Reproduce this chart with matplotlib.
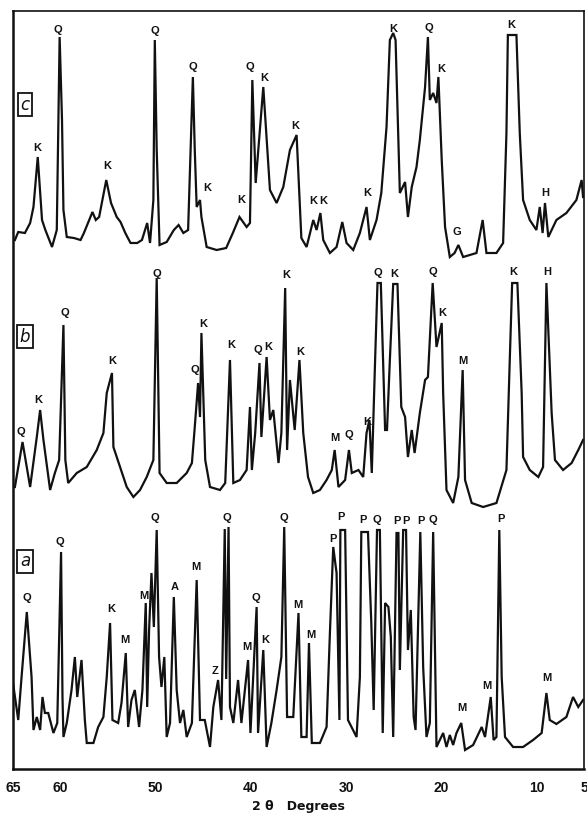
import matplotlib
matplotlib.use("Agg")
import matplotlib.pyplot as plt

# ===============================================================
# Data: 2-theta (deg) and relative intensity
# ===============================================================
C_TWO_THETA = [64.8, 64.45, 63.75, 63.2, 62.85, 62.4, 61.95, 61.6, 60.9, 60.4, 60.1, 59.85, 59.7,
               59.35, 58.6, 57.9, 57.55, 56.65, 56.3, 55.95, 55.2, 54.7, 54.1, 53.7, 53.2,
               52.65, 51.95, 51.45, 50.9, 50.6, 50.25, 50.1, 49.9, 49.6, 48.85, 48.1, 47.6, 47.1,
               46.6, 46.1, 45.9, 45.7, 45.35, 45.2, 44.65, 43.6, 42.6, 41.9, 41.2, 40.45, 40.1,
               39.85, 39.5, 38.7, 38.0, 37.3, 36.6, 35.9, 35.2, 34.7, 34.15, 33.45, 33.1, 32.7,
               32.4, 31.7, 31.0, 30.4, 29.95, 29.25, 28.55, 27.85, 27.5, 26.8, 26.3, 25.75,
               25.4, 25.05, 24.8, 24.35, 23.8, 23.5, 23.1, 22.6, 22.25, 21.7, 21.4, 21.2,
               20.85, 20.5, 20.3, 19.95, 19.6, 19.1, 18.6, 18.2, 17.7, 16.3, 15.65, 15.25,
               14.2, 13.5, 13.15, 13.0, 12.1, 11.75, 11.4, 10.7, 10.0, 9.65, 9.35, 9.1, 8.75,
               7.9, 6.85, 5.8, 5.25, 5.1]
C_INTENSITY = [20, 28, 27, 37, 53, 103, 40, 30, 13, 30, 223, 140, 50,
               23, 22, 20, 27, 48, 40, 43, 80, 57, 43, 38, 27,
               17, 17, 20, 37, 17, 60, 220, 110, 15, 18, 30, 35, 27,
               30, 183, 110, 53, 60, 43, 13, 10, 12, 27, 43, 33, 37,
               180, 77, 173, 70, 57, 73, 110, 125, 22, 13, 40, 30, 47,
               20, 7, 13, 38, 17, 10, 27, 53, 20, 40, 67, 133,
               220, 227, 220, 67, 78, 43, 73, 93, 120, 173, 223, 160,
               167, 157, 183, 100, 33, 3, 7, 15, 3, 7, 40, 7,
               7, 17, 127, 225, 225, 127, 60, 40, 30, 53, 27, 57, 23,
               40, 47, 60, 80, 63]

B_TWO_THETA = [64.8, 64.0, 63.2, 62.5, 62.15, 61.8, 61.1, 60.6, 60.15, 59.7, 59.5, 59.2,
               58.3, 57.25, 56.2, 55.5, 55.15, 54.6, 54.45, 53.75, 53.05, 52.35, 51.65, 50.95,
               50.25, 49.9, 49.6, 48.85, 47.8, 46.75, 46.2, 45.9, 45.55, 45.35, 45.2, 44.8,
               44.3, 43.25, 42.7, 42.2, 41.85, 41.15, 40.45, 40.1, 39.9, 39.55, 39.1, 38.9,
               38.35, 38.0, 37.65, 37.1, 36.8, 36.4, 36.2, 35.9, 35.4, 34.9, 34.5, 34.0,
               33.45, 32.75, 32.05, 31.5, 31.2, 30.8, 30.1, 29.7, 29.4, 28.7, 28.2, 27.85,
               27.55, 27.3, 26.95, 26.7, 26.35, 25.9, 25.7, 25.4, 25.05, 24.6, 24.2, 23.8,
               23.5, 23.1, 22.8, 22.25, 21.7, 21.4, 20.9, 20.5, 19.95, 19.8, 19.45, 18.75,
               18.2, 17.75, 17.5, 16.8, 15.6, 14.2, 13.15, 12.8, 12.55, 12.0, 11.55, 11.4,
               10.7, 9.8, 9.3, 8.95, 8.4, 8.05, 7.2, 6.3, 5.6, 5.1]
B_INTENSITY = [13, 58, 13, 63, 90, 60, 10, 27, 40, 175, 40, 17,
               27, 33, 50, 67, 107, 127, 53, 33, 13, 3, 10, 23,
               40, 222, 27, 17, 17, 27, 37, 73, 117, 83, 167, 40,
               13, 10, 17, 140, 17, 20, 30, 93, 30, 67, 137, 63,
               143, 80, 90, 37, 67, 212, 50, 120, 70, 140, 67, 23,
               7, 10, 20, 30, 50, 13, 20, 50, 27, 30, 23, 67,
               80, 27, 140, 217, 217, 70, 70, 140, 216, 216, 93, 83,
               43, 70, 47, 87, 120, 123, 217, 153, 177, 107, 10, -3,
               23, 130, 20, -3, -7, -3, 30, 140, 217, 217, 107, 43,
               30, 23, 33, 217, 87, 40, 30, 37, 50, 60]

A_TWO_THETA = [65.0, 64.45, 64.1, 63.55, 63.05, 62.85, 62.5, 62.15, 61.9, 61.65, 61.3, 60.75,
               60.35, 59.95, 59.8, 59.7, 59.35, 58.85, 58.5, 58.25, 57.8, 57.45, 57.25, 56.55,
               56.05, 55.5, 55.15, 54.8, 54.55, 53.95, 53.6, 53.15, 52.9, 52.55, 52.2, 51.75,
               51.4, 51.05, 50.9, 50.7, 50.45, 50.2, 49.9, 49.65, 49.4, 49.1, 48.85, 48.5,
               48.1, 47.8, 47.45, 47.1, 46.75, 46.2, 45.7, 45.35, 44.85, 44.3, 43.95, 43.45,
               43.1, 42.75, 42.6, 42.35, 42.2, 41.85, 41.35, 41.0, 40.3, 40.05, 39.4, 39.25,
               38.7, 38.35, 37.85, 37.3, 36.8, 36.5, 36.2, 35.55, 35.0, 34.7, 34.15, 33.9,
               33.6, 32.75, 32.05, 31.7, 31.35, 31.0, 30.7, 30.6, 30.1, 29.8, 28.9, 28.55,
               28.4, 27.7, 27.35, 27.1, 26.75, 26.45, 26.15, 25.9, 25.55, 25.3, 25.05, 24.7,
               24.5, 24.35, 24.0, 23.7, 23.5, 23.2, 22.9, 22.7, 22.2, 21.9, 21.55, 21.2,
               20.85, 20.5, 19.8, 19.45, 19.1, 18.75, 18.4, 17.9, 17.5, 16.65, 15.75, 15.4,
               14.8, 14.5, 14.2, 13.9, 13.65, 13.3, 12.45, 11.4, 10.35, 9.45, 8.95, 8.6,
               7.9, 6.85, 6.15, 5.6, 5.1]
A_INTENSITY = [86, 49, 92, 157, 92, 39, 52, 39, 72, 56, 56, 36,
               46, 217, 72, 32, 46, 79, 112, 72, 109, 49, 26, 26,
               42, 52, 92, 146, 49, 46, 66, 116, 42, 69, 79, 42,
               79, 166, 62, 139, 196, 142, 239, 112, 82, 112, 32, 46,
               172, 79, 46, 59, 32, 46, 189, 49, 49, 22, 62, 89,
               49, 240, 90, 242, 62, 46, 89, 46, 109, 36, 162, 36,
               119, 22, 46, 79, 112, 242, 52, 52, 156, 32, 32, 126,
               26, 26, 42, 136, 222, 196, 49, 239, 239, 49, 32, 92,
               237, 237, 146, 59, 239, 239, 36, 166, 162, 132, 32, 236,
               236, 99, 239, 239, 119, 159, 52, 39, 237, 102, 32, 46,
               237, 22, 36, 22, 34, 24, 36, 46, 19, 24, 42, 32,
               72, 29, 32, 239, 92, 32, 22, 22, 29, 36, 76, 49,
               45, 52, 72, 62, 69]

# peak identifications: (2-theta, height above trace base, mineral)
C_LABELS = [(62.4, 112, "K"), (60.3, 230, "Q"), (55.1, 94, "K"), (50.1, 229, "Q"),
            (46.1, 193, "Q"), (44.6, 72, "K"), (41.0, 60, "K"), (40.1, 193, "Q"),
            (38.6, 182, "K"), (35.3, 134, "K"), (33.5, 59, "K"), (32.4, 59, "K"),
            (27.8, 67, "K"), (25.0, 231, "K"), (21.3, 232, "Q"), (20.0, 191, "K"),
            (18.4, 28, "G"), (12.6, 235, "K"), (9.1, 67, "H")]
B_LABELS = [(64.2, 68, "Q"), (62.3, 100, "K"), (59.6, 187, "Q"), (54.6, 139, "K"),
            (49.9, 226, "Q"), (45.9, 130, "Q"), (45.0, 176, "K"), (42.1, 155, "K"),
            (39.3, 150, "Q"), (38.2, 153, "K"), (36.3, 225, "K"), (34.85, 148, "K"),
            (31.2, 62, "M"), (29.7, 65, "Q"), (27.8, 78, "K"), (26.7, 227, "Q"),
            (24.9, 226, "K"), (20.9, 228, "Q"), (19.9, 187, "K"), (17.7, 139, "M"),
            (12.4, 228, "K"), (8.9, 228, "H")]
A_LABELS = [(63.5, 171, "Q"), (60.1, 227, "Q"), (54.7, 160, "K"), (53.2, 129, "M"),
            (51.25, 173, "M"), (50.1, 251, "Q"), (48.0, 182, "A"), (45.8, 202, "M"),
            (43.8, 98, "Z"), (42.5, 251, "Q"), (40.4, 122, "M"), (39.5, 171, "Q"),
            (38.5, 129, "K"), (36.5, 251, "Q"), (35.05, 164, "M"), (33.7, 134, "M"),
            (31.4, 230, "P"), (30.55, 252, "P"), (28.2, 249, "P"), (26.75, 249, "Q"),
            (24.65, 248, "P"), (23.7, 248, "P"), (22.1, 248, "P"), (20.9, 249, "Q"),
            (17.85, 61, "M"), (15.2, 83, "M"), (13.75, 250, "P"), (8.9, 91, "M")]

X_TICKS = [65, 60, 50, 40, 30, 20, 10, 5]

# ===============================================================
# Figure + layout
# ===============================================================
DPI = 100
fig = plt.figure(figsize=(587 / DPI, 815 / DPI), dpi=DPI)
fig.patch.set_facecolor("white")
ax = fig.add_axes([13 / 587, 1 - 769 / 815, 571 / 587, 758 / 815])

INK = "#111111"
OFFSETS = {"c": 509, "b": 269, "a": 0}
TRACES = [
    ("c", C_TWO_THETA, C_INTENSITY, C_LABELS, 0.876),
    ("b", B_TWO_THETA, B_INTENSITY, B_LABELS, 0.570),
    ("a", A_TWO_THETA, A_INTENSITY, A_LABELS, 0.274),
]

for name, tt, inten, labels, box_y in TRACES:
    off = OFFSETS[name]
    ax.plot(tt, [v + off for v in inten], color=INK, lw=1.6, solid_joinstyle="miter")
    for pos, h, letter in labels:
        ax.text(pos, h + off, letter, ha="center", va="center",
                fontsize=8, fontweight="bold", color=INK, family="Liberation Sans")
    ax.text(0.021, box_y, name, transform=ax.transAxes, ha="center", va="center",
            fontsize=12, style="italic", color=INK, family="DejaVu Sans",
            bbox=dict(boxstyle="square,pad=0.15", fc="white", ec=INK, lw=1.3))

ax.set_xlim(65, 5)
ax.set_ylim(0, 758)
ax.set_xticks(X_TICKS)
ax.set_xticklabels([str(t) for t in X_TICKS], fontsize=10, fontweight="bold",
                   family="Liberation Sans", color=INK)
ax.tick_params(axis="x", length=0, pad=9)
ax.set_yticks([])
ax.set_xlabel("2 \u03b8   Degrees", fontsize=9, fontweight="bold",
              family="DejaVu Sans", color=INK, labelpad=3)

for side, lw in {"left": 1.8, "bottom": 1.8, "top": 1.2, "right": 1.2}.items():
    ax.spines[side].set_linewidth(lw)
    ax.spines[side].set_color(INK)

fig.savefig("out.png", dpi=DPI, facecolor="white")
